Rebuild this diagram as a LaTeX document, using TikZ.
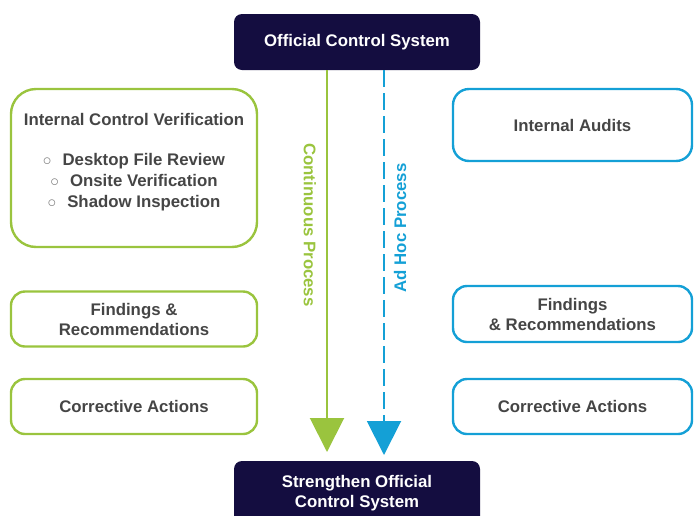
\documentclass[tikz,border=0pt]{standalone}
\usepackage{fontspec}
\setmainfont{Liberation Sans}
\usetikzlibrary{arrows.meta}

\definecolor{navy}{HTML}{140D40}
\definecolor{leaf}{HTML}{9AC43E}
\definecolor{sky}{HTML}{14A0D6}
\definecolor{ink}{HTML}{454545}

\begin{document}
\begin{tikzpicture}[x=1pt,y=-1pt,
	txt/.style={font=\bfseries\fontsize{16.8}{20}\selectfont,align=center},
	sysbox/.style={txt,rectangle,rounded corners=8pt,fill=navy,text=white,minimum width=246pt},
	greenbox/.style={txt,rectangle,draw=leaf,line width=2.4pt,rounded corners=14pt,text=ink,minimum width=246pt},
	bluebox/.style={txt,rectangle,draw=sky,line width=2.4pt,rounded corners=14pt,text=ink,minimum width=239pt},
	flow/.style={line width=2pt,-{Triangle[width=34pt,length=34pt]}}]
	\useasboundingbox (0,0) rectangle (694,515);
	\clip (0,0) rectangle (694,515);
	% system boxes
	\node [sysbox,minimum height=56pt] (ocs) at (357,42) {Official Control System};
	\node [sysbox,minimum height=64pt] (socs) at (357,493) {Strengthen Official\\Control System};
	% continuous process (left)
	\node [greenbox,minimum height=158pt,rounded corners=25pt,font=\bfseries\fontsize{16.8}{21}\selectfont] (icv) at (134,168)
		{Internal Control Verification\\[19pt]
		{\color{ink!70}$\circ$}\hspace{11pt}Desktop File Review\\
		{\color{ink!70}$\circ$}\hspace{11pt}Onsite Verification\\
		{\color{ink!70}$\circ$}\hspace{11pt}Shadow Inspection\\[-13pt]\strut};
	\node [greenbox,minimum height=55pt] (lfind) at (134,319) {Findings \&\\Recommendations};
	\node [greenbox,minimum height=55pt] (lcorr) at (134,406.5) {Corrective Actions};
	% ad hoc process (right)
	\node [bluebox,minimum height=72pt,rounded corners=16pt] (iaud) at (572.5,125) {Internal Audits};
	\node [bluebox,minimum height=56pt] (rfind) at (572.5,314) {Findings\\\& Recommendations};
	\node [bluebox,minimum height=55pt] (rcorr) at (572.5,406.5) {Corrective Actions};
	% process arrows
	\coordinate (gtip) at (327,452);
	\coordinate (btip) at (384,455);
	\draw [flow,leaf] (ocs.south -| gtip) -- (gtip);
	\draw [flow,sky,dash pattern=on 17pt off 6pt] (ocs.south -| btip) -- (btip);
	\node [txt,text=leaf,rotate=-90] (cont) at (310,225) {Continuous Process};
	\node [txt,text=sky,rotate=90] (adhoc) at (400,228) {Ad Hoc Process};
\end{tikzpicture}
\end{document}
